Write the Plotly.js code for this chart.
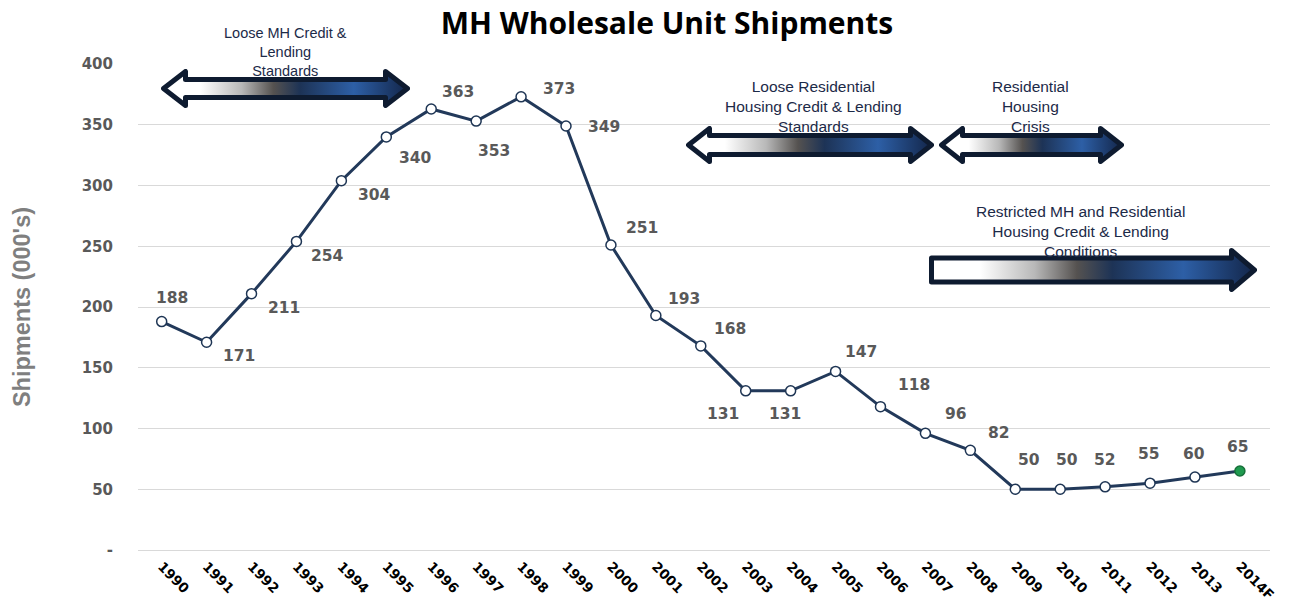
<!DOCTYPE html>
<html>
<head>
<meta charset="utf-8">
<script src="https://cdn.plot.ly/plotly-3.0.1.min.js"></script>
<style>
  html, body { margin: 0; padding: 0; background: #ffffff; }
  #chart { width: 1294px; height: 610px; }
</style>
</head>
<body>
<div id="chart"></div>
<script>
// ---- Data ----
const years = ['1990','1991','1992','1993','1994','1995','1996','1997','1998','1999',
               '2000','2001','2002','2003','2004','2005','2006','2007','2008','2009',
               '2010','2011','2012','2013','2014F'];
const shipments = [188,171,211,254,304,340,363,353,373,349,
                   251,193,168,131,131,147,118,96,82,50,
                   50,52,55,60,65];
const yTickVals = [0,50,100,150,200,250,300,350,400];
const yTickText = ['-','50','100','150','200','250','300','350','400'];

const titleText = 'MH Wholesale Unit Shipments';
const yTitleText = "Shipments (000's)";
const periodTexts = [
  'Loose MH Credit &<br>Lending<br>Standards',
  'Loose Residential<br>Housing Credit & Lending<br>Standards',
  'Residential<br>Housing<br>Crisis',
  'Restricted MH and Residential<br>Housing Credit & Lending<br>Conditions'
];

// ---- Styling / layout helpers (not data) ----
const W = 1294, H = 610;
const M = {l: 138, r: 24, t: 64, b: 60};
const PW = W - M.l - M.r, PH = H - M.t - M.b;
const px2x = px => (px - M.l) / PW;
const px2y = py => (H - M.b - py) / PH;

// label offsets (px) for each data label: [dx, dyDown]
const labelOffsets = [
  [10,-24],[32,14],[32,14],[31,15],[33,14],[29,21],[27,-17],[18,30],[38,-8],[38,1],
  [31,-17],[28,-17],[29,-17],[-23,23],[-6,23],[25,-19],[34,-22],[31,-19],[29,-17],[14,-29],
  [7,-29],[0,-27],[-1,-29],[-1,-23],[-2,-24]
];

const markerFill = years.map((y, i) => i === years.length - 1 ? '#1f9a4f' : '#ffffff');
const markerLine = years.map((y, i) => i === years.length - 1 ? '#17703a' : '#1e3554');

const trace = {
  x: years,
  y: shipments,
  type: 'scatter',
  mode: 'lines+markers',
  line: {color: '#22395a', width: 3},
  marker: {symbol: 'circle', size: 10, color: markerFill, line: {color: markerLine, width: 1.5}},
  hoverinfo: 'x+y',
  showlegend: false
};

const annotations = shipments.map((v, i) => ({
  x: i, y: v, xref: 'x', yref: 'y',
  text: String(v), showarrow: false,
  xshift: labelOffsets[i][0], yshift: -labelOffsets[i][1],
  font: {family: 'DejaVu Sans', size: 15.5, color: '#595959', weight: 'bold'},
  xanchor: 'center', yanchor: 'middle'
}));

// period text annotations
const periodDefs = [
  {cx: 285, cy: 51.5, size: 14.5},
  {cx: 813, cy: 106.5, size: 15.5},
  {cx: 1030, cy: 106.5, size: 15.5},
  {cx: 1080, cy: 231.5, size: 15.5}
];
periodDefs.forEach((p, i) => {
  annotations.push({
    x: px2x(p.cx), y: px2y(p.cy), xref: 'paper', yref: 'paper',
    text: periodTexts[i], showarrow: false,
    xanchor: 'center', yanchor: 'middle', align: 'center',
    font: {family: 'Liberation Sans, Arial', size: p.size, color: '#1c2a48'}
  });
});

// gradient arrows as SVG images
function arrowSvg(w, h, headLen, shaftH, dbl) {
  const sw = 5, m = sw / 2;
  const x0 = m, x1 = w - m, yc = h / 2, yt = m, yb = h - m;
  const st = yc - shaftH / 2 + m, sb = yc + shaftH / 2 - m;
  const L = headLen;
  let pts;
  if (dbl) {
    pts = [[x0,yc],[x0+L,yt],[x0+L,st],[x1-L,st],[x1-L,yt],[x1,yc],[x1-L,yb],[x1-L,sb],[x0+L,sb],[x0+L,yb]];
  } else {
    pts = [[x0,st],[x1-L,st],[x1-L,yt],[x1,yc],[x1-L,yb],[x1-L,sb],[x0,sb]];
  }
  const d = 'M' + pts.map(p => p[0].toFixed(1) + ',' + p[1].toFixed(1)).join(' L') + ' Z';
  const svg = `<svg xmlns="http://www.w3.org/2000/svg" width="${w}" height="${h}" viewBox="0 0 ${w} ${h}" preserveAspectRatio="none">
<defs><linearGradient id="g" x1="0" y1="0" x2="1" y2="0">
<stop offset="0" stop-color="#ffffff"/><stop offset="0.15" stop-color="#ffffff"/>
<stop offset="0.32" stop-color="#b8b8b8"/><stop offset="0.45" stop-color="#555250"/>
<stop offset="0.56" stop-color="#1d3356"/><stop offset="0.78" stop-color="#2d5fa6"/>
<stop offset="1" stop-color="#13264a"/></linearGradient></defs>
<path d="${d}" fill="url(#g)" stroke="#0e1b30" stroke-width="${sw}" stroke-linejoin="round"/></svg>`;
  return 'data:image/svg+xml;charset=utf-8,' + encodeURIComponent(svg);
}

const arrowDefs = [
  {x0: 161, x1: 410, top: 69, bot: 108, head: 22, shaft: 23, dbl: true},
  {x0: 686, x1: 934, top: 126, bot: 164, head: 21, shaft: 24, dbl: true},
  {x0: 939, x1: 1124, top: 126, bot: 164, head: 21, shaft: 24, dbl: true},
  {x0: 929, x1: 1257, top: 248, bot: 292, head: 23, shaft: 29, dbl: false}
];
const images = arrowDefs.map(a => ({
  source: arrowSvg(a.x1 - a.x0, a.bot - a.top, a.head, a.shaft, a.dbl),
  xref: 'paper', yref: 'paper',
  x: px2x(a.x0), y: px2y(a.top),
  sizex: (a.x1 - a.x0) / PW, sizey: (a.bot - a.top) / PH,
  sizing: 'stretch', xanchor: 'left', yanchor: 'top', layer: 'above'
}));

const layout = {
  width: W, height: H,
  margin: M,
  paper_bgcolor: '#ffffff',
  plot_bgcolor: '#ffffff',
  title: {
    text: '<b>' + titleText + '</b>',
    font: {family: 'Open Sans', size: 30, color: '#000000'},
    x: 667 / W, xanchor: 'center', xref: 'container',
    y: 1 - 23.5 / H, yanchor: 'middle', yref: 'container'
  },
  xaxis: {
    type: 'category',
    range: [-0.527, 24.67],
    showgrid: false, zeroline: false, showline: false,
    ticks: '', tickangle: 45,
    ticklabelstandoff: 5,
    tickfont: {family: 'DejaVu Sans', size: 13.5, color: '#000000', weight: 'bold'},
    automargin: false
  },
  yaxis: {
    range: [0, 400],
    tickvals: yTickVals, ticktext: yTickText,
    showgrid: true, gridcolor: '#d9d9d9', gridwidth: 1,
    zeroline: true, zerolinecolor: '#d9d9d9', zerolinewidth: 1,
    showline: false, ticks: '',
    ticklabelstandoff: 24,
    tickfont: {family: 'DejaVu Sans', size: 15, color: '#595959', weight: 'bold'},
    title: {text: yTitleText, standoff: 44,
            font: {family: 'Liberation Sans, Arial', size: 23.5, color: '#7f7f7f', weight: 'bold'}},
    automargin: false
  },
  annotations: annotations,
  images: images
};

Plotly.newPlot('chart', [trace], layout, {displayModeBar: false, staticPlot: true});
</script>
</body>
</html>
